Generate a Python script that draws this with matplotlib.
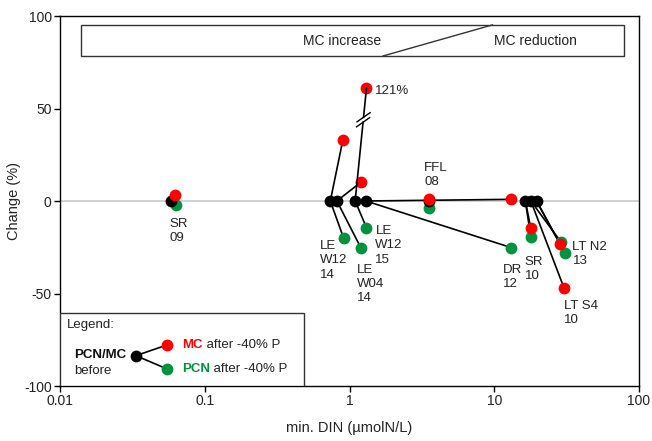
import numpy as np
import matplotlib
matplotlib.use('Agg')
import matplotlib.pyplot as plt
from matplotlib.lines import Line2D
from matplotlib.patches import Rectangle
from matplotlib.transforms import IdentityTransform

plt.rcParams['font.family'] = ['Liberation Sans', 'DejaVu Sans']
plt.rcParams['axes.unicode_minus'] = False

# ---------------- data ----------------
sites = ['SR\n09', 'LE\nW12\n14', 'LE\nW04\n14', 'LE\nW12\n15', 'DR\n12',
         'FFL\n08', 'SR\n10', 'LT N2\n13', 'LT S4\n10']
din_before = [0.0587, 0.737, 0.818, 1.094, 1.30, 3.55, 16.4, 19.6, 17.9]
din_mc_after = [0.0624, 0.90, 1.21, 1.31, 13.1, 3.55, 17.9, 28.5, 30.4]
din_pcn_after = [0.0628, 0.91, 1.20, 1.31, 13.1, 3.55, 17.9, 30.7, 28.8]
change_before = [0, 0, 0, 0, 0, 0, 0, 0, 0]
mc_change = [3.2, 33, 10.4, 121, 0.9, 0.9, -14.8, -23.4, -47.2]
pcn_change = [-2.2, -20, -25.4, -14.4, -25.2, -3.6, -19.6, -27.9, -22]

x_ticks = [0.01, 0.1, 1, 10, 100]
x_ticklabels = ['0.01', '0.1', '1', '10', '100']
y_ticks = [-100, -50, 0, 50, 100]

# label anchor positions (data coords)
label_x = [0.057, 0.625, 1.117, 1.51, 11.4, 3.28, 16.2, 34.7, 30.5]
label_y = [-9.2, -21.1, -34.0, -13.0, -34.0, 21.1, -29.7, -21.6, -53.5]

BREAK_SHOW = 61   # where off-scale values are drawn (broken line)

RED = '#ff0000'
GREEN = '#00923f'

fig = plt.figure(figsize=(6.52, 4.41), dpi=100)
W, H = 652, 441
L, R, T, B = 60, 639, 16, 386
ax = fig.add_axes([L / W, 1 - B / H, (R - L) / W, (B - T) / H])
ax.set_xscale('log')
ax.set_xlim(0.01, 100)
ax.set_ylim(-100, 100)

ax.axhline(0, color='#c8c8c8', lw=1.2, zorder=0.5)

mc_disp = [v if v <= 100 else BREAK_SHOW for v in mc_change]

fig.canvas.draw()
for i in range(len(sites)):
    xb, yb = din_before[i], change_before[i]
    ax.plot([xb, din_pcn_after[i]], [yb, pcn_change[i]], color='black', lw=1.2, zorder=1)
    if mc_change[i] > 100:
        p0 = ax.transData.transform((xb, yb))
        p1 = ax.transData.transform((din_mc_after[i], mc_disp[i]))
        u = (p1 - p0) / np.hypot(*(p1 - p0))
        c = p0 + 0.72 * (p1 - p0)
        gap = 2.5
        a = c - gap * u
        b = c + gap * u
        fig.add_artist(Line2D([p0[0], a[0]], [p0[1], a[1]], color='black', lw=1.2,
                              transform=IdentityTransform(), zorder=3))
        fig.add_artist(Line2D([b[0], p1[0]], [b[1], p1[1]], color='black', lw=1.2,
                              transform=IdentityTransform(), zorder=3))
        v = np.array([np.cos(np.radians(35)), np.sin(np.radians(35))])
        for q in (a, b):
            s0 = q - 8 * v
            s1 = q + 8 * v
            fig.add_artist(Line2D([s0[0], s1[0]], [s0[1], s1[1]], color='black', lw=1.0,
                                  transform=IdentityTransform(), zorder=3))
        ax.text(din_mc_after[i] * 1.15, mc_disp[i] - 1.5, '%d%%' % mc_change[i],
                fontsize=9.5, ha='left', va='center', color='#222222')
    else:
        ax.plot([xb, din_mc_after[i]], [yb, mc_disp[i]], color='black', lw=1.2, zorder=1)

ax.plot(din_pcn_after, pcn_change, 'o', color=GREEN, ms=8.5, mec='none', zorder=4, clip_on=False)
ax.plot(din_before, change_before, 'o', color='black', ms=8.5, mec='none', zorder=5, clip_on=False)
ax.plot(din_mc_after, mc_disp, 'o', color=RED, ms=8.5, mec='none', zorder=6, clip_on=False)

for s, lx, ly in zip(sites, label_x, label_y):
    ax.text(lx, ly, s, fontsize=9.5, ha='left', va='top', linespacing=1.25, color='#222222')

# axes styling
ax.set_xticks(x_ticks)
ax.set_xticklabels(x_ticklabels)
ax.xaxis.set_minor_locator(matplotlib.ticker.NullLocator())
ax.set_yticks(y_ticks)
ax.tick_params(axis='both', direction='out', length=4, width=1, labelsize=10,
               colors='black', labelcolor='#222222', pad=2)
for sp in ax.spines.values():
    sp.set_linewidth(1.0)
ax.set_xlabel('min. DIN (µmolN/L)', fontsize=10.5, color='#222222', labelpad=9)
ax.set_ylabel('Change (%)', fontsize=10.5, color='#222222')
ax.yaxis.set_label_coords(-0.068, 0.5)

# top box
ax.add_patch(Rectangle((0.036, 0.892), 0.938, 0.084, transform=ax.transAxes,
                       fill=False, ec='#333333', lw=1.0, zorder=2))
ax.plot([0.558, 0.747], [0.892, 0.976], transform=ax.transAxes, color='#333333', lw=1.0)
ax.text(0.488, 0.932, 'MC increase', transform=ax.transAxes, ha='center', va='center',
        fontsize=10, color='#222222')
ax.text(0.821, 0.932, 'MC reduction', transform=ax.transAxes, ha='center', va='center',
        fontsize=10, color='#222222')

# legend box
ax.add_patch(Rectangle((0, 0), 0.421, 0.197, transform=ax.transAxes,
                       fill=True, fc='white', ec='#333333', lw=1.0, zorder=7))
ax.text(0.012, 0.165, 'Legend:', transform=ax.transAxes, ha='left', va='center',
        fontsize=9.5, color='#222222', zorder=8)
ax.text(0.024, 0.084, 'PCN/MC', transform=ax.transAxes, ha='left', va='center',
        fontsize=9.5, fontweight='bold', color='#111111', zorder=8)
ax.text(0.024, 0.041, 'before', transform=ax.transAxes, ha='left', va='center',
        fontsize=9.5, color='#222222', zorder=8)
lb = (0.131, 0.082)
lr = (0.185, 0.111)
lg = (0.185, 0.046)
ax.plot([lb[0], lr[0]], [lb[1], lr[1]], transform=ax.transAxes, color='black', lw=1.2, zorder=8)
ax.plot([lb[0], lg[0]], [lb[1], lg[1]], transform=ax.transAxes, color='black', lw=1.2, zorder=8)
ax.plot(*lb, 'o', transform=ax.transAxes, color='black', ms=8.5, mec='none', zorder=9)
ax.plot(*lr, 'o', transform=ax.transAxes, color=RED, ms=8.5, mec='none', zorder=9)
ax.plot(*lg, 'o', transform=ax.transAxes, color=GREEN, ms=8.5, mec='none', zorder=9)
t1 = ax.text(0.211, 0.111, 'MC', transform=ax.transAxes, ha='left', va='center',
             fontsize=9.5, fontweight='bold', color=RED, zorder=8)
ax.annotate(' after -40% P', xy=(1, 0.5), xycoords=t1, ha='left', va='center',
            fontsize=9.5, color='#222222', zorder=8)
t2 = ax.text(0.211, 0.046, 'PCN', transform=ax.transAxes, ha='left', va='center',
             fontsize=9.5, fontweight='bold', color=GREEN, zorder=8)
ax.annotate(' after -40% P', xy=(1, 0.5), xycoords=t2, ha='left', va='center',
            fontsize=9.5, color='#222222', zorder=8)

fig.savefig('out.png', dpi=100)
